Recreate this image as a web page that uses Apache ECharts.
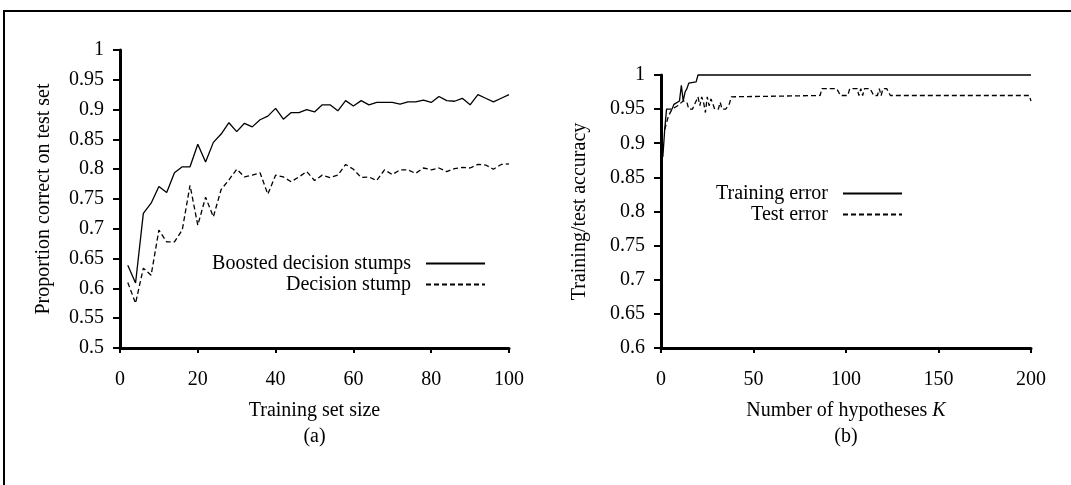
<!DOCTYPE html>
<html>
<head>
<meta charset="utf-8">
<script src="https://cdn.jsdelivr.net/npm/echarts@6/dist/echarts.min.js"></script>
<style>
  html, body { margin: 0; padding: 0; background: #fff; }
  #chart { width: 1071px; height: 485px; }
</style>
</head>
<body>
<div id="chart"></div>
<script>
// (a) training set size vs proportion correct
const trainSizes = [2, 4, 6, 8, 10, 12, 14, 16, 18, 20, 22, 24, 26, 28, 30, 32, 34, 36, 38, 40,
  42, 44, 46, 48, 50, 52, 54, 56, 58, 60, 62, 64, 66, 68, 70, 72, 74, 76, 78, 80,
  82, 84, 86, 88, 90, 92, 94, 96, 98, 100]
const boosted = [0.639, 0.609, 0.726, 0.743, 0.771, 0.761, 0.794, 0.804, 0.804, 0.842,
  0.812, 0.845, 0.859, 0.878, 0.863, 0.877, 0.871, 0.883, 0.889, 0.902,
  0.884, 0.895, 0.895, 0.900, 0.896, 0.908, 0.908, 0.898, 0.915, 0.906,
  0.915, 0.908, 0.912, 0.912, 0.912, 0.909, 0.913, 0.913, 0.916, 0.912,
  0.922, 0.915, 0.914, 0.919, 0.908, 0.925, 0.919, 0.913, 0.919, 0.925]
const stump = [0.610, 0.575, 0.634, 0.622, 0.698, 0.678, 0.678, 0.698, 0.773, 0.706,
  0.753, 0.720, 0.766, 0.782, 0.800, 0.787, 0.790, 0.794, 0.758, 0.790,
  0.787, 0.779, 0.787, 0.796, 0.781, 0.790, 0.786, 0.790, 0.808, 0.800,
  0.786, 0.787, 0.781, 0.799, 0.791, 0.799, 0.799, 0.793, 0.802, 0.799,
  0.802, 0.796, 0.801, 0.803, 0.802, 0.808, 0.807, 0.800, 0.808, 0.809]

// (b) number of hypotheses K vs accuracy, [K, value] where the curve changes
const trainingK = [1, 2, 2, 3, 6, 7, 10, 11, 12, 13, 14, 15, 19, 20, 200]
const trainingAcc = [0.88, 0.88, 0.92, 0.95, 0.95, 0.957, 0.962, 0.985, 0.962, 0.975, 0.98, 0.988, 0.99, 1, 1]
const testK = [2, 4, 6, 9, 12, 14, 15, 17, 19, 20, 21, 22, 23, 24, 25, 26, 27, 28, 29, 31,
  32, 33, 35, 37, 38, 39, 86, 87, 95, 97, 101, 102, 106, 107, 108, 109, 110, 113, 115, 117,
  118, 119, 120, 122, 124, 125, 199, 200]
const testAcc = [0.92, 0.94, 0.95, 0.955, 0.962, 0.96, 0.95, 0.95, 0.962, 0.968, 0.955, 0.968, 0.96, 0.945, 0.968, 0.955, 0.965, 0.958, 0.95, 0.95,
  0.96, 0.95, 0.95, 0.958, 0.968, 0.97, 0.97, 0.98, 0.98, 0.97, 0.97, 0.98, 0.98, 0.97, 0.98, 0.97, 0.98, 0.98, 0.97, 0.97,
  0.98, 0.97, 0.98, 0.98, 0.97, 0.97, 0.97, 0.962]

const font = 'Liberation Serif'
const ink = '#000'

function pairs(xs, ys) {
  return xs.map((x, i) => [x, ys[i]])
}

function axisX(gridIndex, max, interval, name) {
  return {
    type: 'value',
    gridIndex: gridIndex,
    min: 0,
    max: max,
    interval: interval,
    splitLine: { show: false },
    axisLine: { lineStyle: { color: ink, width: 3 } },
    axisTick: { length: 5, lineStyle: { color: ink, width: 2 } },
    axisLabel: { color: ink, fontFamily: font, fontSize: 20, margin: 22 },
    name: name,
    nameLocation: 'middle',
    nameGap: 50,
    nameTextStyle: {
      color: ink, fontFamily: font, fontSize: 20, lineHeight: 26,
      rich: { k: { fontStyle: 'italic', fontFamily: font, fontSize: 20, color: ink } }
    }
  }
}

function axisY(gridIndex, min, name, gap) {
  return {
    type: 'value',
    gridIndex: gridIndex,
    min: min,
    max: 1,
    interval: 0.05,
    splitLine: { show: false },
    axisLine: { show: true, lineStyle: { color: ink, width: 3 } },
    axisTick: { show: true, length: 7, lineStyle: { color: ink, width: 2 } },
    axisLabel: { color: ink, fontFamily: font, fontSize: 20, margin: 16 },
    name: name,
    nameLocation: 'middle',
    nameGap: gap,
    nameTextStyle: { color: ink, fontFamily: font, fontSize: 20 }
  }
}

// text on the left, plain line sample on the right (no marker)
function legendAt(names, right, top) {
  return {
    data: names,
    orient: 'vertical',
    align: 'right',
    right: right,
    top: top,
    itemWidth: 59,
    itemHeight: 14,
    itemGap: 0,
    selectedMode: false,
    itemStyle: { opacity: 0, color: 'transparent', borderWidth: 0 },
    textStyle: { color: ink, fontFamily: font, fontSize: 20, lineHeight: 21, padding: [0, 10, 0, 0] }
  }
}

const lineSolid = { color: ink, width: 1.3, type: 'solid' }
const lineDashed = { color: ink, width: 1.3, type: [5, 3] }

const option = {
  animation: false,
  backgroundColor: '#fff',
  textStyle: { fontFamily: font },
  graphic: [{
    type: 'rect',
    shape: { x: 4, y: 11, width: 1200, height: 600 },
    style: { fill: 'none', stroke: ink, lineWidth: 2 },
    silent: true
  }],
  grid: [
    { left: 120, right: 562, top: 50, bottom: 137 },
    { left: 661, right: 40, top: 75, bottom: 137 }
  ],
  legend: [
    legendAt(['Boosted decision stumps', 'Decision stump'], 580, 248),
    legendAt(['Training error', 'Test error'], 163, 178)
  ],
  xAxis: [
    axisX(0, 100, 20, 'Training set size\n(a)'),
    axisX(1, 200, 50, 'Number of hypotheses {k|K}\n(b)')
  ],
  yAxis: [
    axisY(0, 0.5, 'Proportion correct on test set', 66),
    axisY(1, 0.6, 'Training/test accuracy', 71)
  ],
  series: [
    {
      name: 'Boosted decision stumps', type: 'line', xAxisIndex: 0, yAxisIndex: 0,
      data: pairs(trainSizes, boosted), symbol: 'none', clip: false,
      itemStyle: { color: ink }, lineStyle: lineSolid
    },
    {
      name: 'Decision stump', type: 'line', xAxisIndex: 0, yAxisIndex: 0,
      data: pairs(trainSizes, stump), symbol: 'none', clip: false,
      itemStyle: { color: ink }, lineStyle: lineDashed
    },
    {
      name: 'Training error', type: 'line', xAxisIndex: 1, yAxisIndex: 1,
      data: pairs(trainingK, trainingAcc), symbol: 'none', clip: false,
      itemStyle: { color: ink }, lineStyle: lineSolid
    },
    {
      name: 'Test error', type: 'line', xAxisIndex: 1, yAxisIndex: 1,
      data: pairs(testK, testAcc), symbol: 'none', clip: false,
      itemStyle: { color: ink }, lineStyle: lineDashed
    }
  ]
}

const chart = echarts.init(document.getElementById('chart'))
chart.setOption(option)
</script>
</body>
</html>
